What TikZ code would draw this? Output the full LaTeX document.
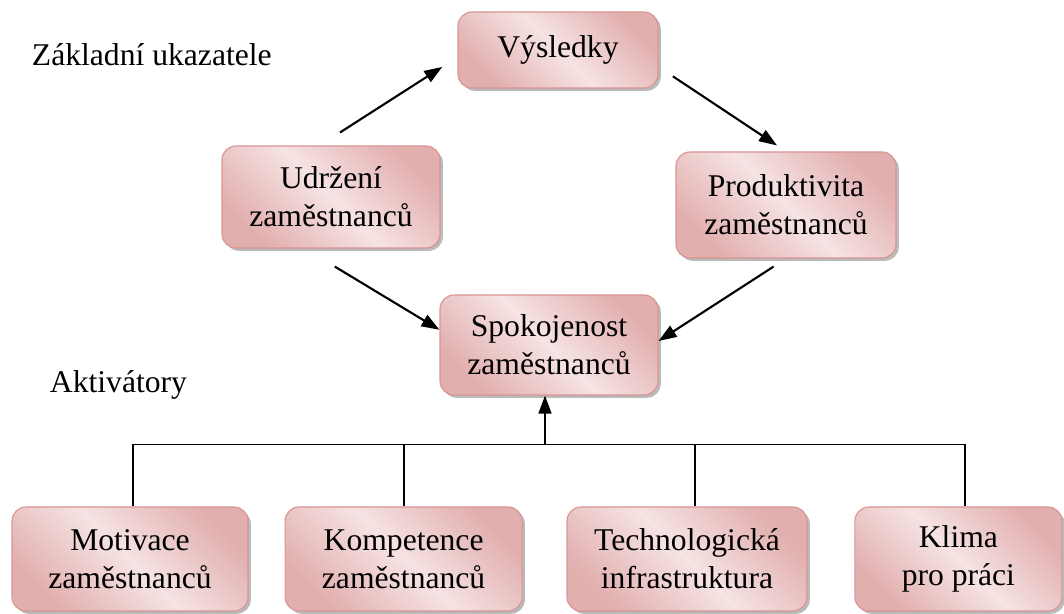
\documentclass[tikz,border=0pt]{standalone}
\usepackage{fontspec}
\setmainfont{Liberation Serif}
\usepackage{xcolor}
\definecolor{boxBorder}{HTML}{D99594}
\definecolor{boxDark}{HTML}{E2AFAF}
\definecolor{boxLight}{HTML}{F6E3E3}
\usetikzlibrary{arrows.meta,calc,shadows}

\tikzset{
  box/.style={rounded corners=0.35cm, draw=boxBorder, line width=0.8pt,
    top color=boxDark, bottom color=boxDark, middle color=boxLight, shading angle=-45,
    drop shadow={shadow xshift=0.07cm, shadow yshift=-0.07cm, fill=black!45, opacity=0.6},
    align=center, inner sep=0pt, font=\fontsize{22.5}{27}\selectfont},
  arrow/.style={line width=1.5pt, -{Triangle[length=0.45cm, width=0.32cm]}},
  bus/.style={line width=1.3pt},
  label/.style={anchor=west, font=\fontsize{22.5}{27}\selectfont}
}

\begin{document}
\begin{tikzpicture}
  \useasboundingbox (0,0) rectangle (26.6,15.35);
  \node[box, minimum width=5.0cm, minimum height=1.9cm] (vysledky) at (13.95,14.1) {Výsledky};
  \node[box, minimum width=5.45cm, minimum height=2.55cm] (udrzeni) at (8.275,10.425) {Udržení\\zaměstnanců};
  \node[box, minimum width=5.5cm, minimum height=2.65cm] (produktivita) at (19.65,10.225) {Produktivita\\zaměstnanců};
  \node[box, minimum width=5.45cm, minimum height=2.5cm] (spokojenost) at (13.725,6.725) {Spokojenost\\zaměstnanců};
  \node[box, minimum width=5.9cm, minimum height=2.6cm] (motivace) at (3.25,1.375) {Motivace\\zaměstnanců};
  \node[box, minimum width=5.925cm, minimum height=2.6cm] (kompetence) at (10.09,1.375) {Kompetence\\zaměstnanců};
  \node[box, minimum width=6.0cm, minimum height=2.6cm] (technologie) at (17.175,1.375) {Technologická\\infrastruktura};
  \node[box, minimum width=5.175cm, minimum height=2.6cm] (klima) at (23.96,1.375) {Klima\\pro práci};
  \node[label] (zakladni) at (0.675,13.975) {Základní ukazatele};
  \node[label] (aktivatory) at (1.125,5.725) {Aktivátory};
  % arrows between the key indicators
  \draw[arrow, shorten <=0.6cm, shorten >=0.45cm] ($(udrzeni.north)+(-0.28,0)$) -- ($(vysledky.west)+(0,-0.18)$);
  \draw[arrow, shorten <=0.43cm, shorten >=0.27cm] ($(vysledky.east)+(0,-0.42)$) -- (produktivita.north);
  \draw[arrow, shorten <=0.87cm] ($(udrzeni.south)+(-0.65,0)$) -- ($(spokojenost.west)+(0,0.38)$);
  \draw[arrow, shorten <=0.37cm] (produktivita.south) -- ($(spokojenost.east)+(0,0.1)$);
  % activators
  \coordinate (busmid) at ($(spokojenost.south)+(-0.1,-1.225)$);
  \coordinate (busleft) at ($(motivace.north |- busmid)+(0.08,0)$);
  \coordinate (busright) at ($(klima.north |- busmid)+(0.16,0)$);
  \draw[bus] ($(motivace.north)+(0.08,0)$) -- (busleft) -- (busright) -- ($(klima.north)+(0.16,0)$);
  \draw[bus] (kompetence.north) -- (kompetence.north |- busmid);
  \draw[bus] ($(technologie.north)+(0.2,0)$) -- ($(technologie.north |- busmid)+(0.2,0)$);
  \draw[arrow] (busmid) -- (busmid |- spokojenost.south);
\end{tikzpicture}
\end{document}
